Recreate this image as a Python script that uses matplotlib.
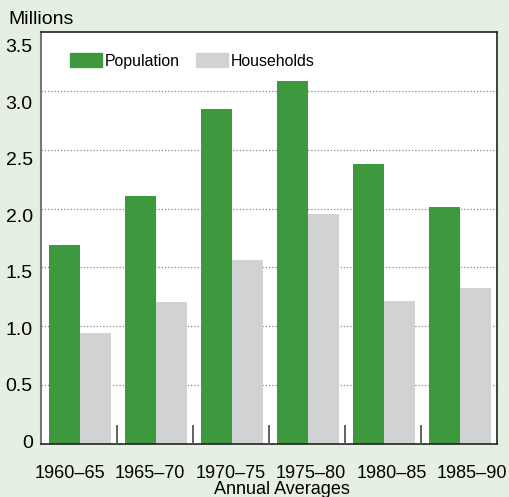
import numpy as np
import matplotlib.pyplot as plt
import matplotlib.transforms as mtrans
from matplotlib.patches import Patch

plt.rcParams['font.family'] = ['Liberation Sans', 'DejaVu Sans']

periods = ["1960\u201365", "1965\u201370", "1970\u201375", "1975\u201380", "1980\u201385", "1985\u201390"]
population = [1.69, 2.11, 2.85, 3.08, 2.38, 2.01]
households = [0.945, 1.21, 1.56, 1.95, 1.215, 1.325]
ylabels = ["0", "0.5", "1.0", "1.5", "2.0", "2.5", "3.0", "3.5"]

bg = "#e5efe2"
green = "#3e993e"
grey = "#d1d2d4"

fig = plt.figure(figsize=(5.09, 4.97), dpi=100, facecolor=bg)
ax = fig.add_axes([41 / 509, 1 - 444 / 497, 456 / 509, 412 / 497])
ax.set_facecolor("white")

x = np.arange(len(periods))
w = 0.408
ax.bar(x + 0.105, population, width=w, align="edge", color=green, zorder=2)
ax.bar(x + 0.105 + w, households, width=w, align="edge", color=grey, zorder=2)

# small separators between the periods
ax.vlines(np.arange(1, len(periods)), 0, 0.16, color="#555555", lw=1.3, zorder=3)

ax.set_xlim(0, len(periods))
ax.set_ylim(0, 3.5)

# period labels sit on a slightly wider pitch than the bar groups
ax.set_xticks(0.38 + x * 1.058)
ax.set_xticklabels(periods, fontsize=13)
yt = np.arange(0, 3.51, 0.5)
ax.set_yticks(yt)
ax.set_yticklabels(ylabels, fontsize=14)
ax.tick_params(length=0)
ax.tick_params(axis="y", pad=6)
ax.tick_params(axis="x", pad=15)
# y labels drift a little below their gridlines towards the top
for v, lab in zip(yt, ax.get_yticklabels()):
    off = -(3.4 * v - 2) / 72
    lab.set_transform(lab.get_transform() + mtrans.ScaledTranslation(0, off, fig.dpi_scale_trans))

for yv in np.arange(0.5, 3.01, 0.5):
    ax.axhline(yv, color="#888888", lw=0.9, ls=(0, (1, 1.6)), zorder=1)

ax.spines["left"].set_color("#777777")
ax.spines["left"].set_linewidth(1.5)
for s in ["top", "right", "bottom"]:
    ax.spines[s].set_color("#222222")
    ax.spines[s].set_linewidth(1.2)

handles = [Patch(color=green, label="Population"), Patch(color=grey, label="Households")]
ax.legend(handles=handles, loc="upper left", bbox_to_anchor=(0.0636, 0.948), ncol=2,
          frameon=False, fontsize=11.4, borderpad=0, borderaxespad=0,
          handlelength=2.0, handleheight=0.95, handletextpad=0.18, columnspacing=1.05)

fig.text(8 / 509, 1 - 20 / 497, "Millions", fontsize=14, ha="left", va="center")
fig.text(282 / 509, 1 - 489 / 497, "Annual Averages", fontsize=13, ha="center", va="center")

fig.savefig("out.png", dpi=100, facecolor=bg)
